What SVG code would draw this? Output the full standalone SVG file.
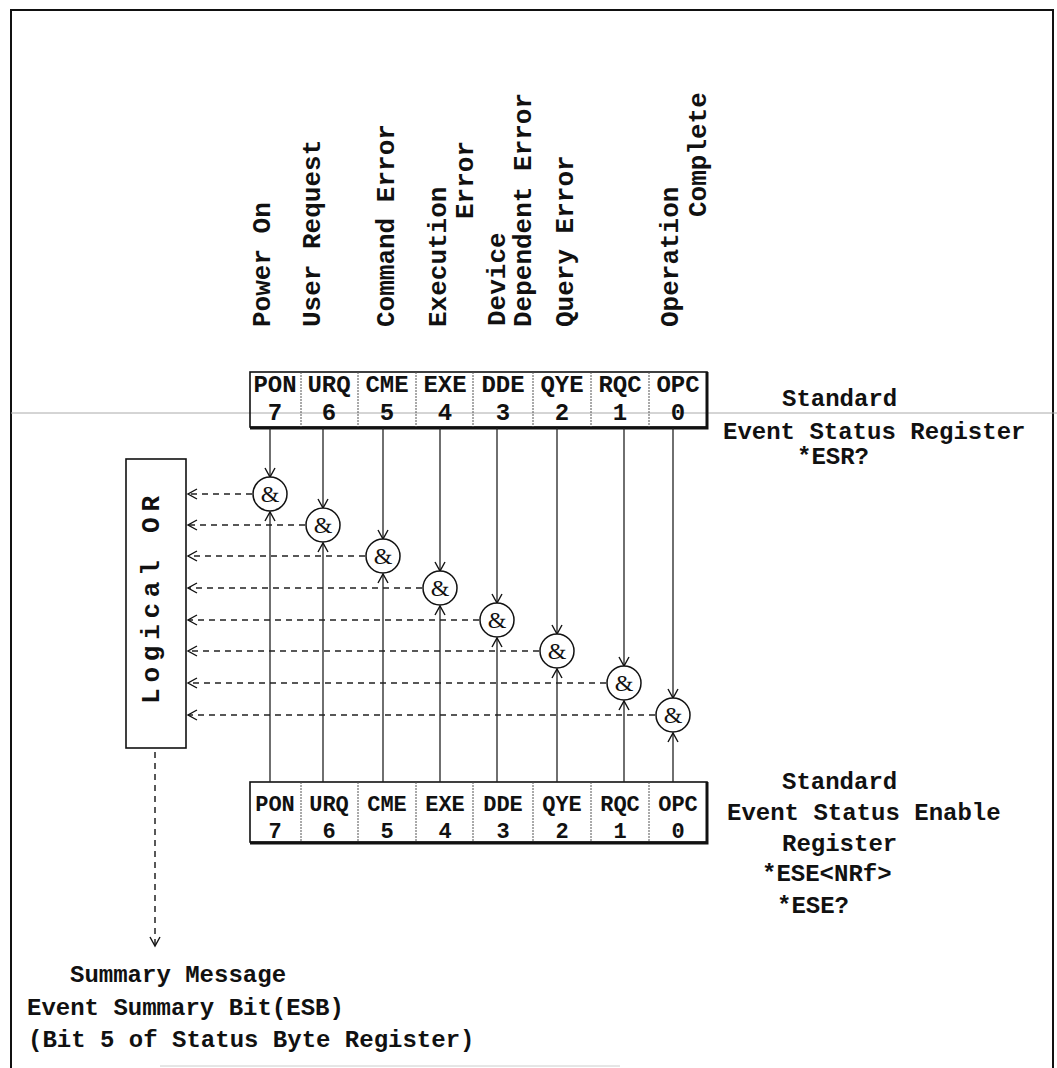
<svg xmlns="http://www.w3.org/2000/svg" width="1057" height="1068" viewBox="0 0 1057 1068">
<defs>
<style>
.t{font-family:"Liberation Mono","DejaVu Sans Mono",monospace;font-weight:bold;fill:#111}
.lab{font-size:26px}
.reg{font-size:24px;text-anchor:middle}
.reg2{font-size:22px;text-anchor:middle}
.txt{font-size:24px}
.box{fill:none;stroke:#111;stroke-width:1.6}
.div{stroke:#555;stroke-width:1;stroke-dasharray:2 1}
.sig{fill:none;stroke:#222;stroke-width:1.3}
.dash{fill:none;stroke:#222;stroke-width:1.5;stroke-dasharray:6 5}
.gate{fill:#fff;stroke:#111;stroke-width:1.5}
.amp{font-family:"Liberation Serif","DejaVu Serif",serif;font-size:24px;text-anchor:middle;fill:#111}
</style>
<marker id="arr" markerWidth="12" markerHeight="12" refX="10" refY="6" orient="auto" markerUnits="userSpaceOnUse">
<path d="M1,1 L10,6 L1,11" fill="none" stroke="#111" stroke-width="1.4"/>
</marker>
</defs>
<rect width="1057" height="1068" fill="#fff"/>

<g id="frame">
<path d="M11,1068 V10 H1053 V1068" fill="none" stroke="#111" stroke-width="2"/>
<line x1="11" y1="413" x2="1057" y2="413" stroke="#aaa" stroke-width="1"/>
<line x1="160" y1="1066" x2="620" y2="1066" stroke="#ccc" stroke-width="1"/>
</g>

<g id="bit-labels" class="t lab">
<text transform="translate(270,327) rotate(-90)">Power On</text>
<text transform="translate(320,327) rotate(-90)">User Request</text>
<text transform="translate(394,327) rotate(-90)">Command Error</text>
<text transform="translate(446,327) rotate(-90)">Execution</text>
<text transform="translate(473,219) rotate(-90)">Error</text>
<text transform="translate(505,326) rotate(-90)">Device</text>
<text transform="translate(531,327) rotate(-90)">Dependent Error</text>
<text transform="translate(573,327) rotate(-90)">Query Error</text>
<text transform="translate(678,327) rotate(-90)">Operation</text>
<text transform="translate(706,217) rotate(-90)">Complete</text>
</g>

<g id="esr-register">
<rect class="box" x="250" y="372" width="457" height="55"/>
<path d="M707,372 V428 H250" fill="none" stroke="#111" stroke-width="3"/>
<line class="div" x1="301" y1="372" x2="301" y2="427"/>
<line class="div" x1="358" y1="372" x2="358" y2="427"/>
<line class="div" x1="416" y1="372" x2="416" y2="427"/>
<line class="div" x1="473" y1="372" x2="473" y2="427"/>
<line class="div" x1="533" y1="372" x2="533" y2="427"/>
<line class="div" x1="591" y1="372" x2="591" y2="427"/>
<line class="div" x1="649" y1="372" x2="649" y2="427"/>
<g class="t reg">
<text x="275" y="392">PON</text><text x="275" y="420">7</text>
<text x="329" y="392">URQ</text><text x="329" y="420">6</text>
<text x="387" y="392">CME</text><text x="387" y="420">5</text>
<text x="445" y="392">EXE</text><text x="445" y="420">4</text>
<text x="503" y="392">DDE</text><text x="503" y="420">3</text>
<text x="562" y="392">QYE</text><text x="562" y="420">2</text>
<text x="620" y="392">RQC</text><text x="620" y="420">1</text>
<text x="678" y="392">OPC</text><text x="678" y="420">0</text>
</g>
<g class="t txt">
<text x="782" y="406">Standard</text>
<text x="723" y="439">Event Status Register</text>
<text x="797" y="464">*ESR?</text>
</g>
</g>

<g id="ese-register">
<rect class="box" x="250" y="782" width="457" height="60"/>
<path d="M707,782 V843 H250" fill="none" stroke="#111" stroke-width="3"/>
<line class="div" x1="301" y1="782" x2="301" y2="842"/>
<line class="div" x1="358" y1="782" x2="358" y2="842"/>
<line class="div" x1="416" y1="782" x2="416" y2="842"/>
<line class="div" x1="473" y1="782" x2="473" y2="842"/>
<line class="div" x1="533" y1="782" x2="533" y2="842"/>
<line class="div" x1="591" y1="782" x2="591" y2="842"/>
<line class="div" x1="649" y1="782" x2="649" y2="842"/>
<g class="t reg2">
<text x="275" y="811">PON</text><text x="275" y="838">7</text>
<text x="329" y="811">URQ</text><text x="329" y="838">6</text>
<text x="387" y="811">CME</text><text x="387" y="838">5</text>
<text x="445" y="811">EXE</text><text x="445" y="838">4</text>
<text x="503" y="811">DDE</text><text x="503" y="838">3</text>
<text x="562" y="811">QYE</text><text x="562" y="838">2</text>
<text x="620" y="811">RQC</text><text x="620" y="838">1</text>
<text x="678" y="811">OPC</text><text x="678" y="838">0</text>
</g>
<g class="t txt">
<text x="782" y="789">Standard</text>
<text x="727" y="820">Event Status Enable</text>
<text x="782" y="851">Register</text>
<text x="762" y="881">*ESE&lt;NRf&gt;</text>
<text x="777" y="913">*ESE?</text>
</g>
</g>

<g id="logical-or">
<rect class="box" x="126" y="459" width="60" height="289"/>
<text class="t" font-size="26" text-anchor="middle" textLength="208" lengthAdjust="spacing" transform="translate(159,600) rotate(-90)">Logical OR</text>
</g>

<g id="connectors">
<line class="sig" x1="270" y1="428" x2="270" y2="477" marker-end="url(#arr)"/>
<line class="sig" x1="323" y1="428" x2="323" y2="508" marker-end="url(#arr)"/>
<line class="sig" x1="383" y1="428" x2="383" y2="539" marker-end="url(#arr)"/>
<line class="sig" x1="440" y1="428" x2="440" y2="571" marker-end="url(#arr)"/>
<line class="sig" x1="497" y1="428" x2="497" y2="603" marker-end="url(#arr)"/>
<line class="sig" x1="557" y1="428" x2="557" y2="634" marker-end="url(#arr)"/>
<line class="sig" x1="624" y1="428" x2="624" y2="666" marker-end="url(#arr)"/>
<line class="sig" x1="673" y1="428" x2="673" y2="698" marker-end="url(#arr)"/>

<line class="sig" x1="270" y1="782" x2="270" y2="512" marker-end="url(#arr)"/>
<line class="sig" x1="323" y1="782" x2="323" y2="543" marker-end="url(#arr)"/>
<line class="sig" x1="383" y1="782" x2="383" y2="574" marker-end="url(#arr)"/>
<line class="sig" x1="440" y1="782" x2="440" y2="606" marker-end="url(#arr)"/>
<line class="sig" x1="497" y1="782" x2="497" y2="638" marker-end="url(#arr)"/>
<line class="sig" x1="557" y1="782" x2="557" y2="669" marker-end="url(#arr)"/>
<line class="sig" x1="624" y1="782" x2="624" y2="701" marker-end="url(#arr)"/>
<line class="sig" x1="673" y1="782" x2="673" y2="733" marker-end="url(#arr)"/>

<line class="dash" x1="252" y1="494" x2="188" y2="494" marker-end="url(#arr)"/>
<line class="dash" x1="305" y1="525" x2="188" y2="525" marker-end="url(#arr)"/>
<line class="dash" x1="365" y1="556" x2="188" y2="556" marker-end="url(#arr)"/>
<line class="dash" x1="422" y1="588" x2="188" y2="588" marker-end="url(#arr)"/>
<line class="dash" x1="479" y1="620" x2="188" y2="620" marker-end="url(#arr)"/>
<line class="dash" x1="539" y1="651" x2="188" y2="651" marker-end="url(#arr)"/>
<line class="dash" x1="606" y1="683" x2="188" y2="683" marker-end="url(#arr)"/>
<line class="dash" x1="655" y1="715" x2="188" y2="715" marker-end="url(#arr)"/>

<line class="dash" x1="155" y1="752" x2="155" y2="946" stroke-dasharray="4 3" marker-end="url(#arr)"/>
</g>

<g id="gate-7"><circle class="gate" cx="270" cy="494" r="17"/><text class="amp" x="270" y="502">&amp;</text></g>
<g id="gate-6"><circle class="gate" cx="323" cy="525" r="17"/><text class="amp" x="323" y="533">&amp;</text></g>
<g id="gate-5"><circle class="gate" cx="383" cy="556" r="17"/><text class="amp" x="383" y="564">&amp;</text></g>
<g id="gate-4"><circle class="gate" cx="440" cy="588" r="17"/><text class="amp" x="440" y="596">&amp;</text></g>
<g id="gate-3"><circle class="gate" cx="497" cy="620" r="17"/><text class="amp" x="497" y="628">&amp;</text></g>
<g id="gate-2"><circle class="gate" cx="557" cy="651" r="17"/><text class="amp" x="557" y="659">&amp;</text></g>
<g id="gate-1"><circle class="gate" cx="624" cy="683" r="17"/><text class="amp" x="624" y="691">&amp;</text></g>
<g id="gate-0"><circle class="gate" cx="673" cy="715" r="17"/><text class="amp" x="673" y="723">&amp;</text></g>

<g id="summary-label" class="t txt">
<text x="70" y="982">Summary Message</text>
<text x="27" y="1015">Event Summary Bit(ESB)</text>
<text x="28" y="1047">(Bit 5 of Status Byte Register)</text>
</g>
</svg>
